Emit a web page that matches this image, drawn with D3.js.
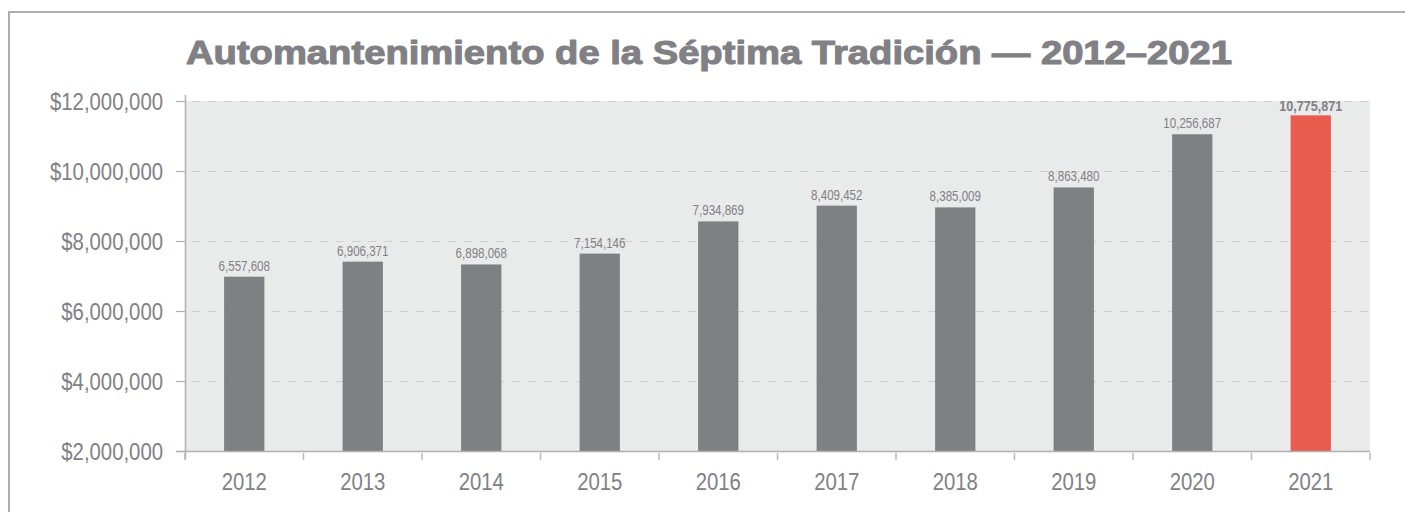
<!DOCTYPE html>
<html>
<head>
<meta charset="utf-8">
<script src="https://cdn.jsdelivr.net/npm/d3@7"></script>
<style>
  html, body { margin: 0; padding: 0; background: #ffffff; }
  svg { display: block; }
  text { font-family: "Liberation Sans", Arial, sans-serif; }
</style>
</head>
<body>
<svg id="chart" width="1405" height="512"></svg>
<script>
// ---- data ----
const titleText = "Automantenimiento de la Séptima Tradición — 2012–2021";
const years = ["2012","2013","2014","2015","2016","2017","2018","2019","2020","2021"];
// bar heights as drawn in the picture
const barValues = [6980000, 7410000, 7330000, 7640000, 8560000, 9010000, 8960000, 9530000, 11050000, 11590000];
// value labels printed above the bars
const labelValues = [6557608, 6906371, 6898068, 7154146, 7934869, 8409452, 8385009, 8863480, 10256687, 10775871];
const yTicks = [2000000, 4000000, 6000000, 8000000, 10000000, 12000000];
const highlightYear = "2021";

(function () {
const svg = d3.select("#chart");
const pLeft = 185, pRight = 1370, pTop = 101, pBottom = 451;
const grey = "#808085";
// horizontally condense a text element about its own x position
function condense(sel, sx) {
  sel.each(function (d) {
    const t = d3.select(this);
    const x0 = +t.attr("x") || 0;
    const y0 = +t.attr("y") || 0;
    const s = typeof sx === "function" ? sx(d) : sx;
    t.attr("x", 0).attr("y", 0)
     .attr("transform", `translate(${x0},${y0}) scale(${s},1)`);
  });
}

// outer frame
svg.append("path")
  .attr("d", "M9,512 L9,12 L1405,12")
  .attr("fill", "none").attr("stroke", "#adadad").attr("stroke-width", 2);

// title
svg.append("text")
  .attr("x", 186).attr("y", 64)
  .attr("textLength", 1046).attr("lengthAdjust", "spacingAndGlyphs")
  .attr("font-weight", "bold").attr("font-size", 34)
  .attr("fill", grey).attr("stroke", grey).attr("stroke-width", 1.1)
  .attr("stroke-linejoin", "round")
  .text(titleText);

const y = d3.scaleLinear().domain([2000000, 12000000]).range([pBottom, pTop]);
const x = d3.scaleBand().domain(years).range([pLeft, pRight]).paddingInner(0.66).paddingOuter(0.33);

// plot background
svg.append("rect")
  .attr("x", pLeft).attr("y", y(12000000))
  .attr("width", pRight - pLeft).attr("height", pBottom - y(12000000))
  .attr("fill", "#e9eaea");

// gridlines
svg.append("g").selectAll("line").data(yTicks.filter(d => d > 2000000)).join("line")
  .attr("x1", pLeft - 9).attr("x2", pRight)
  .attr("y1", d => Math.round(y(d)) + 0.5).attr("y2", d => Math.round(y(d)) + 0.5)
  .attr("stroke", "#cfcfcf").attr("stroke-width", 1.2)
  .attr("stroke-dasharray", "8,8");

// bars
svg.append("g").selectAll("rect").data(years).join("rect")
  .attr("x", d => x(d))
  .attr("width", x.bandwidth())
  .attr("y", (d, i) => y(barValues[i]))
  .attr("height", (d, i) => y(2000000) - y(barValues[i]))
  .attr("fill", d => d === highlightYear ? "#e95b4e" : "#7f8084");

// value labels
const fmt = d3.format(",");
const labels = svg.append("g").selectAll("text").data(years).join("text")
  .attr("x", d => x(d) + x.bandwidth() / 2)
  .attr("y", (d, i) => y(barValues[i]) - (d === highlightYear ? 4.5 : 6))
  .attr("text-anchor", "middle")
  .attr("font-size", d => d === highlightYear ? 15 : 14.8)
  .attr("font-weight", d => d === highlightYear ? "bold" : "normal")
  .attr("fill", grey)
  .text((d, i) => fmt(labelValues[i]));
condense(labels, d => d === highlightYear ? 0.84 : 0.78);

// y axis
const yAxis = svg.append("g").attr("transform", `translate(${pLeft},0)`)
  .call(d3.axisLeft(y).tickValues(yTicks).tickSize(9).tickPadding(13)
    .tickFormat(d => "$" + fmt(d)));
yAxis.select(".domain").remove();
yAxis.selectAll(".tick line").attr("stroke", "#b0b0b0").attr("stroke-width", 1.2);
const yt = yAxis.selectAll(".tick text").attr("font-size", 24.5).attr("fill", grey)
  .attr("dy", "0.36em");
condense(yt, 0.83);
svg.append("line").attr("x1", pLeft + 0.5).attr("x2", pLeft + 0.5)
  .attr("y1", pTop - 6).attr("y2", pBottom + 8)
  .attr("stroke", "#b0b0b0").attr("stroke-width", 1.5);

// x axis
svg.append("line").attr("x1", pLeft - 9).attr("x2", pRight)
  .attr("y1", pBottom + 0.5).attr("y2", pBottom + 0.5)
  .attr("stroke", "#b0b0b0").attr("stroke-width", 1.5);
const xAxis = svg.append("g").attr("transform", `translate(0,${pBottom})`)
  .call(d3.axisBottom(x).tickSize(0).tickPadding(22));
xAxis.select(".domain").remove();
const xt = xAxis.selectAll(".tick text").attr("font-size", 24.5).attr("fill", grey)
  .attr("dy", "0.71em");
condense(xt, 0.83);
svg.append("g").selectAll("line").data(d3.range(years.length + 1)).join("line")
  .attr("x1", i => pLeft + i * x.step()).attr("x2", i => pLeft + i * x.step())
  .attr("y1", pBottom + 2).attr("y2", pBottom + 9)
  .attr("stroke", "#b8b8b8").attr("stroke-width", 1.5);
})();
</script>
</body>
</html>
